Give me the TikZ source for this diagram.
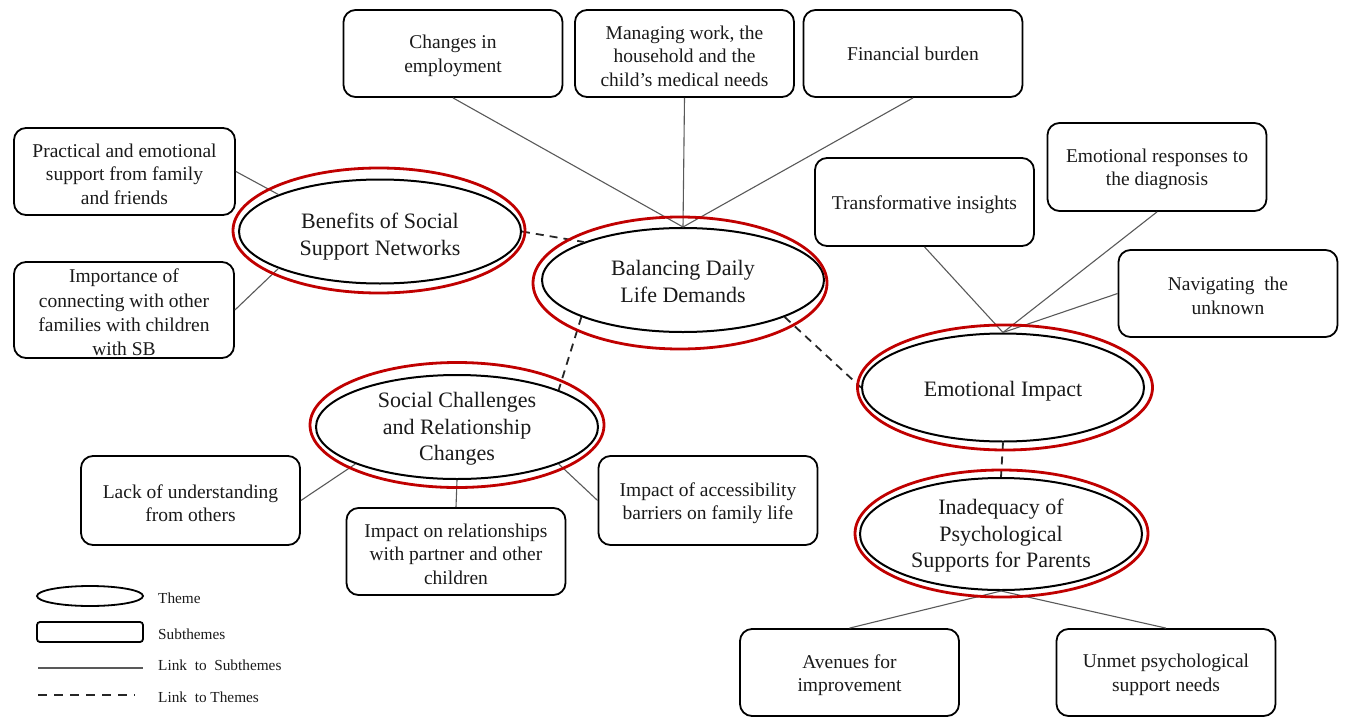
\documentclass[tikz,border=0pt]{standalone}
\usepackage{fontspec}
\setmainfont{Liberation Serif}
\usetikzlibrary{shapes.geometric}
\definecolor{ringred}{HTML}{C00000}
\definecolor{linkgray}{HTML}{595959}
\definecolor{txt}{HTML}{1A1A1A}
\begin{document}
\begin{tikzpicture}[x=1pt,y=-1pt,
  sub/.style={draw=black, line width=1.8pt, rounded corners=12pt, minimum width=219pt, minimum height=87pt, inner sep=0pt},
  subtext/.style={align=center, font=\fontsize{19.5}{23.5}\selectfont, text=txt, inner sep=0pt, yshift=-2.5pt},
  theme/.style={draw=black, line width=2pt, ellipse, minimum width=282pt, minimum height=104pt, inner sep=0pt},
  themetext/.style={align=center, font=\fontsize{22}{26.5}\selectfont, text=txt, inner sep=0pt},
  ring/.style={draw=ringred, line width=2.8pt},
  sublink/.style={draw=linkgray, line width=1.1pt},
  themelink/.style={draw=black!85, line width=1.8pt, dash pattern=on 8pt off 6pt},
  legtxt/.style={font=\fontsize{15.3}{18}\selectfont, anchor=west, text=txt, inner sep=0pt}]
\useasboundingbox (0,0) rectangle (1346,717);

% subthemes
\node[sub, label={[subtext]center:{Changes in\\employment}}] (b1) at (453,53.5) {};
\node[sub, label={[subtext]center:{Managing work, the\\household and the\\child’s medical needs}}] (b2) at (684.5,53.5) {};
\node[sub, label={[subtext, yshift=2pt]center:{Financial burden}}] (b3) at (913,53.5) {};
\node[sub, minimum width=221pt, label={[subtext]center:{Practical and emotional\\support from family\\and friends}}] (b4) at (124.5,171.5) {};
\node[sub, minimum width=220pt, minimum height=96pt, label={[subtext, font=\fontsize{19.5}{24.3}\selectfont]center:{Importance of\\connecting with other\\families with children\\with SB}}] (b5) at (124,310) {};
\node[sub, minimum height=88pt, label={[subtext]center:{Transformative insights}}] (b6) at (924.5,202) {};
\node[sub, minimum height=88pt, label={[subtext]center:{Emotional responses to\\the diagnosis}}] (b7) at (1157,167) {};
\node[sub, label={[subtext]center:{Navigating\ \ the\\unknown}}] (b8) at (1228,293.5) {};
\node[sub, minimum height=89pt, label={[subtext]center:{Lack of understanding\\from others}}] (b9) at (190.5,500.5) {};
\node[sub, label={[subtext]center:{Impact on relationships\\with partner and other\\children}}] (b10) at (456,551.5) {};
\node[sub, minimum height=89pt, label={[subtext]center:{Impact of accessibility\\barriers on family life}}] (b11) at (708,500.5) {};
\node[sub, label={[subtext]center:{Avenues for\\improvement}}] (b12) at (849.5,672.5) {};
\node[sub, label={[subtext]center:{Unmet psychological\\support needs}}] (b13) at (1166,672.5) {};

% themes
\node[theme, label={[themetext, yshift=-5pt]center:{Benefits of Social\\Support Networks}}] (ben) at (380,231.5) {};
\node[theme, label={[themetext, yshift=-1.5pt]center:{Balancing Daily\\Life Demands}}] (bal) at (683,280) {};
\node[theme, label={[themetext, yshift=-2pt]center:{Social Challenges\\and Relationship\\Changes}}] (soc) at (457,427) {};
\node[theme, minimum height=108pt, label={[themetext, yshift=-4pt]center:{Emotional Impact}}] (emo) at (1003,387.5) {};
\node[theme, minimum height=112pt, label={[themetext, yshift=-2pt]center:{Inadequacy of\\Psychological\\Supports for Parents}}] (ins) at (1001,534) {};

% links to subthemes
\draw[sublink] (b1.south) -- (bal.north);
\draw[sublink] (b2.south) -- (bal.north);
\draw[sublink] (b3.south) -- (bal.north);
\draw[sublink] (b4.east) -- (ben.160);
\draw[sublink] (b5.east) -- (ben.200);
\draw[sublink] (b6.south) -- (emo.north);
\draw[sublink] (b7.south) -- (emo.north);
\draw[sublink] (b8.west) -- (emo.north);
\draw[sublink] (b9.east) -- (soc.200);
\draw[sublink] (b10.north) -- (soc.south);
\draw[sublink] (b11.west) -- (soc.340);
\draw[sublink] (b12.north) -- (ins.south);
\draw[sublink] (b13.north) -- (ins.south);

% links to themes
\draw[themelink] (ben.east) -- (bal.159);
\draw[themelink] (bal.200) -- (soc.20);
\draw[themelink] (bal.340) -- (emo.west);
\draw[themelink] (emo.south) -- (ins.north);

% red rings
\draw[ring] (ben.center) ++(-1,-1) ellipse [x radius=146pt, y radius=62.5pt];
\draw[ring] (bal.center) ++(-3,3) ellipse [x radius=147pt, y radius=66pt];
\draw[ring] (soc.center) ++(0,-2) ellipse [x radius=147pt, y radius=62.5pt];
\draw[ring] (emo.center) ++(2,0) ellipse [x radius=147.5pt, y radius=62.5pt];
\draw[ring] (ins.center) ++(0.5,-0.5) ellipse [x radius=146.5pt, y radius=63.5pt];

% legend
\node[draw=black, line width=1.8pt, ellipse, minimum width=106pt, minimum height=20pt, inner sep=0pt] (legth) at (90,596) {};
\node[draw=black, line width=1.8pt, rounded corners=3pt, minimum width=106pt, minimum height=20pt, inner sep=0pt] (legsub) at (90,632) {};
\coordinate (ls1) at (38,668); \coordinate (ls2) at (143,668);
\coordinate (lt1) at (38,695); \coordinate (lt2) at (135,695);
\draw[sublink] (ls1) -- (ls2);
\draw[themelink, dash pattern=on 9pt off 7pt] (lt1) -- (lt2);
\node[legtxt] (lab1) at (158,598) {Theme};
\node[legtxt] (lab2) at (158,634) {Subthemes};
\node[legtxt] (lab3) at (158,665) {Link\ \ to\ \ Subthemes};
\node[legtxt] (lab4) at (158,697) {Link\ \ to\ Themes};
\end{tikzpicture}
\end{document}
